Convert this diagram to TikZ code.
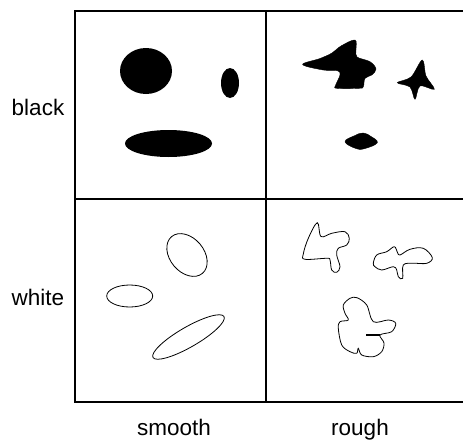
\documentclass[tikz,border=0pt]{standalone}
\usepackage{fontspec}
\setmainfont{Liberation Sans}
\begin{document}
\begin{tikzpicture}[x=1pt,y=-1pt,
  frame/.style={line width=1.6pt,line cap=rect},
  blob/.style={fill=black,draw=black,line width=0.4pt},
  outline/.style={draw=black,line width=0.8pt},
  lab/.style={anchor=base,font=\fontsize{22.5}{27}\selectfont,inner sep=0pt}]
\useasboundingbox (0,0) rectangle (463,439);
% frame
\coordinate (tl) at (75,11);
\coordinate (tr) at (466,11);
\coordinate (bl) at (75,402);
\coordinate (br) at (466,402);
\coordinate (ml) at (75,199);
\coordinate (mr) at (466,199);
\coordinate (mt) at (266,11);
\coordinate (mb) at (266,402);
\draw[frame] (tr) -- (tl) -- (bl) -- (br);
\draw[frame] (ml) -- (mr);
\draw[frame] (mt) -- (mb);
% labels
\node[lab] (lblack) at (38,115) {black};
\node[lab] (lwhite) at (38,305) {white};
\node[lab] (lsmooth) at (174,435) {smooth};
\node[lab] (lrough) at (360,435) {rough};
% black smooth
\fill (146,71) ellipse [x radius=26, y radius=23];
\fill (230,83) ellipse [x radius=9, y radius=15];
\fill (168.5,143.5) ellipse [x radius=43.5, y radius=13.5];
% white smooth
\draw[outline,rotate around={-50:(187,255)}] (187,255) ellipse [x radius=24, y radius=17];
\draw[outline] (129.7,296) ellipse [x radius=23, y radius=11];
\draw[outline,rotate around={30:(188.5,337)}] (188.5,337) ellipse [x radius=41, y radius=10];
% black rough
\draw[blob] plot[smooth cycle,tension=0.6] coordinates {
 (302.7,64.5) (320,58.5) (332,53) (341,46) (355,40) (356,50) (357,57)
 (370,61.7) (376,69) (371.7,75) (365,78.3) (363.3,86.7) (359,88.3)
 (337,88.3) (335.5,85.5) (340,75) (337.5,70.7) (323.3,70)};
\draw[blob] plot[smooth cycle,tension=0.55] coordinates {
 (422.3,60) (426,76) (434.3,89.3) (420,86) (415,99.3) (410,87) (397.3,82.7) (411,77)};
\draw[blob] plot[smooth cycle,tension=0.7] coordinates {
 (345,141.7) (355,135.5) (363.3,133) (371,136.5) (377.3,142.7) (365,148.5) (356,148.5)};
% white rough
\draw[outline] plot[smooth cycle,tension=0.6] coordinates {
 (317.3,222.7) (321,236.5) (331.7,233.3) (345,231.7) (349.3,238.3) (346.7,245)
 (338.3,248.3) (336.7,255) (340,266.7) (336.7,272.3) (331.7,270) (330,260)
 (326.7,258.3) (305,259.3) (303.3,254) (308.3,238.3)};
\draw[outline] plot[smooth cycle,tension=0.6] coordinates {
 (373.3,263.3) (376.7,255) (386.7,251.7) (394.3,246.7) (397.5,252.5) (400,255)
 (410,249.3) (423.3,248.3) (432.3,257.7) (426.7,263.3) (413.3,263.3) (403.3,265)
 (402.7,278.3) (398.3,276.7) (396.7,270) (393.3,266.7) (381.7,270) (375,266.7)};
\draw[outline] plot[smooth cycle,tension=0.55] coordinates {
 (350,298.3) (357,297.7) (366.7,305) (373.3,321.7) (388.3,320) (395.7,323.3)
 (391.7,331.7) (380,335) (384,343) (381.7,351.7) (373.3,356.7) (361.7,355)
 (358.3,348.3) (356.7,353.3) (350,351.7) (341.7,345) (338.3,328.3) (340,321.7)
 (348.3,320) (345,313.3) (343.3,305)};
\draw[line width=1.2pt] (366,335) -- (380,335);
\end{tikzpicture}
\end{document}
